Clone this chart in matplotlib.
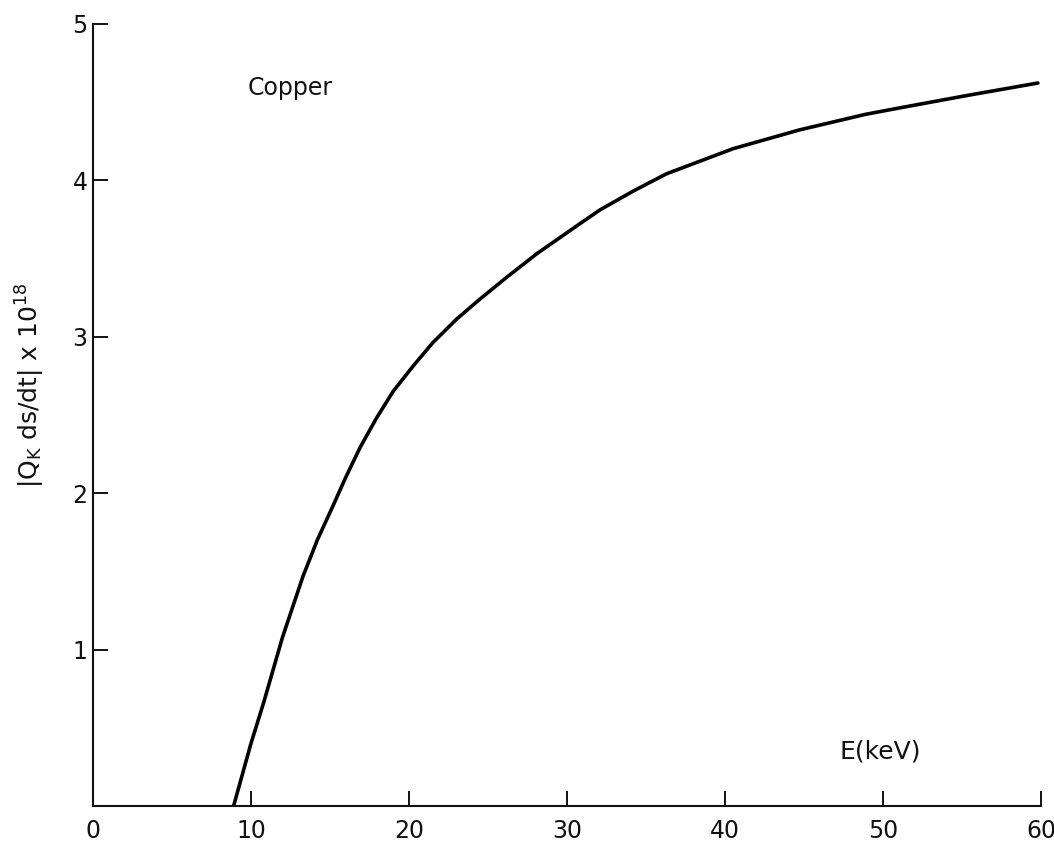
import matplotlib
matplotlib.use("Agg")
import matplotlib.pyplot as plt

# K-shell term for copper vs. electron energy
energy_kev = [8.9, 10.0, 10.8, 11.4, 12.0, 12.7, 13.3, 14.2, 15.2, 15.95,
              16.9, 17.95, 19.0, 20.25, 21.5, 23.0, 24.5, 26.2, 28.1, 30.8,
              32.1, 34.2, 36.3, 38.4, 40.5, 42.6, 44.7, 46.8, 48.9, 51.0,
              55.3, 59.8]
qk_dsdt = [0.0, 0.40, 0.66, 0.87, 1.08, 1.29, 1.47, 1.70, 1.92, 2.09,
           2.29, 2.48, 2.65, 2.81, 2.96, 3.11, 3.24, 3.38, 3.53, 3.72,
           3.81, 3.93, 4.04, 4.12, 4.20, 4.26, 4.32, 4.37, 4.42, 4.46,
           4.54, 4.62]

x_ticks = [0, 10, 20, 30, 40, 50, 60]
y_ticks = [1, 2, 3, 4, 5]

plt.rcParams['font.family'] = ['DejaVu Sans']
ink = '#111111'

fig = plt.figure(figsize=(10.54, 8.41), dpi=100)
ax = fig.add_axes([0.0882, 0.0416, 0.8995, 0.9304])

ax.plot(energy_kev, qk_dsdt, color='black', lw=2.6,
        solid_capstyle='round', solid_joinstyle='round')

ax.set_xlim(0, 60)
ax.set_ylim(0, 5)

for side in ['top', 'right']:
    ax.spines[side].set_visible(False)
for side in ['left', 'bottom']:
    ax.spines[side].set_linewidth(1.5)
    ax.spines[side].set_color(ink)

ax.set_xticks(x_ticks)
ax.set_xticklabels([str(t) for t in x_ticks])
ax.set_yticks(y_ticks)
ax.set_yticklabels([str(t) for t in y_ticks])
# origin gets a label but no tick mark
ax.xaxis.get_major_ticks()[0].tick1line.set_visible(False)

ax.tick_params(axis='x', direction='in', length=11, width=1.4, pad=9,
               labelsize=17, colors=ink)
ax.tick_params(axis='y', direction='in', length=11, width=1.4, pad=4,
               labelsize=17, colors=ink)

ax.set_ylabel(r'|Q$_\mathrm{K}$ ds/dt| x 10$^{18}$', fontsize=18, color=ink)
ax.yaxis.set_label_coords(-0.049, 0.538)

ax.text(49.8, 0.35, 'E(keV)', ha='center', va='center', fontsize=18,
        color=ink)
ax.text(12.5, 4.59, 'Copper', ha='center', va='center', fontsize=17,
        color=ink)

fig.savefig('out.png', dpi=100)
